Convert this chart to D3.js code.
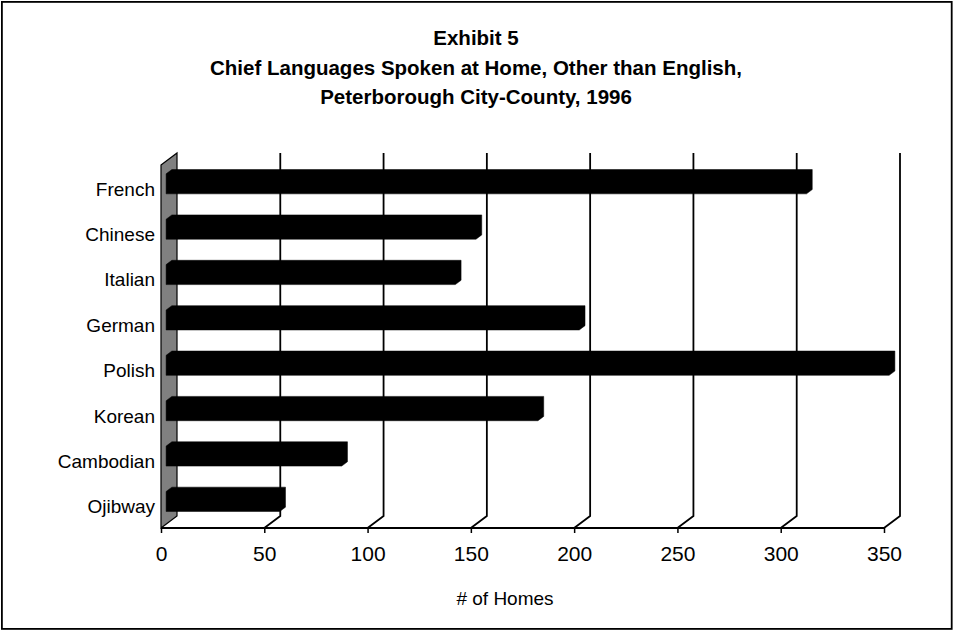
<!DOCTYPE html>
<html>
<head>
<meta charset="utf-8">
<script src="https://cdn.jsdelivr.net/npm/d3@7"></script>
<style>
  html, body { margin: 0; padding: 0; background: #fff; }
  svg { display: block; }
  text { font-family: "Liberation Sans", Arial, sans-serif; fill: #000; }
</style>
</head>
<body>
<svg id="chart" width="953" height="630"></svg>
<script>
// ---- data ----
const titleLines = ["Exhibit 5", "Chief Languages Spoken at Home, Other than English,", "Peterborough City-County, 1996"];
const categories = ["French", "Chinese", "Italian", "German", "Polish", "Korean", "Cambodian", "Ojibway"];
const homes = [310, 150, 140, 200, 350, 180, 85, 55];
const tickValues = [0, 50, 100, 150, 200, 250, 300, 350];
const xAxisTitle = "# of Homes";

// ---- layout ----
const W = 953, H = 630;
const svg = d3.select("#chart");

const x = d3.scaleLinear().domain([0, 350]).range([161, 884]);
const y = d3.scaleBand().domain(categories).range([165, 528]).padding(0);

const DX = 16, DY = -12;      // depth of the 3D floor/wall
const d1 = 0.32, d2 = 0.68;   // bar front/back depth fractions
const barH = 20;

// outer frame
svg.append("rect")
  .attr("x", 1.9).attr("y", 1.9)
  .attr("width", W - 3.2).attr("height", H - 3.0)
  .attr("fill", "none").attr("stroke", "#000").attr("stroke-width", 1.8);

// title
svg.append("g").selectAll("text").data(titleLines).join("text")
  .attr("x", 476).attr("y", (d, i) => 45 + i * 29.5)
  .attr("text-anchor", "middle")
  .attr("font-weight", "bold")
  .attr("font-size", 20.5)
  .text(d => d);

const yTop = y.range()[0], yBot = y.range()[1];

// gridlines on back wall + floor diagonals
const grid = svg.append("g");
tickValues.filter(v => v > 0).forEach(v => {
  const xf = x(v);
  grid.append("path")
    .attr("d", `M${xf + DX},${yTop + DY} L${xf + DX},${yBot + DY} L${xf},${yBot}`)
    .attr("fill", "none").attr("stroke", "#000").attr("stroke-width", 1.8);
});

// left wall (gray)
const x0 = x(0);
svg.append("path")
  .attr("d", `M${x0},${yTop} L${x0 + DX},${yTop + DY} L${x0 + DX},${yBot + DY} L${x0},${yBot} Z`)
  .attr("fill", "#808080").attr("stroke", "#000").attr("stroke-width", 1.2);

// axis line + ticks
const xAxis = d3.axisBottom(x).tickValues(tickValues).tickSize(5).tickPadding(8).tickFormat(d3.format("d"));
const gx = svg.append("g").attr("transform", `translate(0,${yBot})`).call(xAxis);
gx.select(".domain").attr("d", `M${x(0)},0 H${x(350)}`).attr("stroke-width", 1.8);
gx.selectAll(".tick line").attr("stroke-width", 1.5);
gx.selectAll(".tick text")
  .attr("font-size", 21)
  .attr("font-family", "Liberation Sans, Arial, sans-serif")
  .attr("dy", null).attr("y", 33);

// bars (3D silhouette, all black)
const bars = svg.append("g");
categories.forEach((c, i) => {
  const cy = y(c) + y.bandwidth() / 2;
  const fx0 = x(0) + d1 * DX;
  const fx1 = x(homes[i]) + d1 * DX;
  const fyT = cy + d1 * DY - barH / 2;
  const fyB = cy + d1 * DY + barH / 2;
  const ox = (d2 - d1) * DX, oy = (d2 - d1) * DY;
  bars.append("path")
    .attr("d", `M${fx0},${fyB} L${fx0},${fyT} L${fx0 + ox},${fyT + oy} L${fx1 + ox},${fyT + oy} L${fx1 + ox},${fyB + oy} L${fx1},${fyB} Z`)
    .attr("fill", "#000").attr("stroke", "#000").attr("stroke-width", 0.5);
});

// category labels
svg.append("g").selectAll("text").data(categories).join("text")
  .attr("x", 155)
  .attr("y", d => y(d) + y.bandwidth() / 2 + 8)
  .attr("text-anchor", "end")
  .attr("font-size", 19)
  .text(d => d);

// axis title
svg.append("text")
  .attr("x", 505).attr("y", 605)
  .attr("text-anchor", "middle")
  .attr("font-size", 19)
  .text(xAxisTitle);
</script>
</body>
</html>
